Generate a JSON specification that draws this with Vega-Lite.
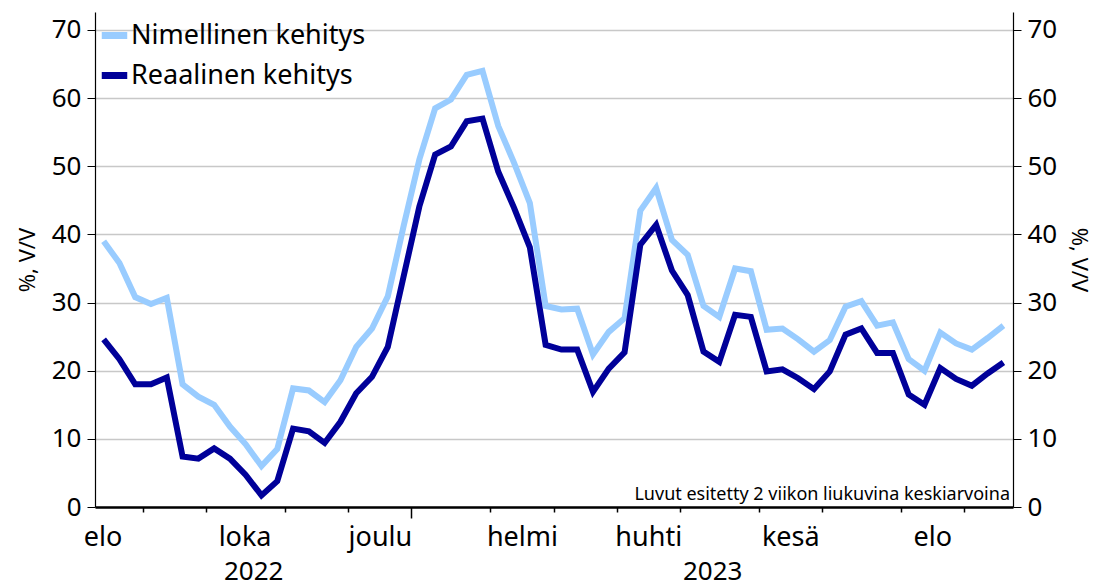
{
  "$schema": "https://vega.github.io/schema/vega-lite/v6.json",
  "width": 918,
  "height": 495,
  "autosize": {"type": "none"},
  "padding": {"left": 95, "top": 12, "right": 84, "bottom": 79},
  "background": "white",
  "config": {
    "font": "Noto Sans",
    "view": {"stroke": null},
    "axis": {"labelColor": "black", "titleColor": "black", "labelFont": "Noto Sans", "titleFont": "Noto Sans"}
  },
  "datasets": {
    "kehitys": [
      {"viikko": "2022-08-15T00:00", "Nimellinen kehitys": 39.0, "Reaalinen kehitys": 24.6},
      {"viikko": "2022-08-22T00:00", "Nimellinen kehitys": 35.8, "Reaalinen kehitys": 21.7},
      {"viikko": "2022-08-29T00:00", "Nimellinen kehitys": 30.8, "Reaalinen kehitys": 18.0},
      {"viikko": "2022-09-05T00:00", "Nimellinen kehitys": 29.8, "Reaalinen kehitys": 18.0},
      {"viikko": "2022-09-12T00:00", "Nimellinen kehitys": 30.7, "Reaalinen kehitys": 19.0},
      {"viikko": "2022-09-19T00:00", "Nimellinen kehitys": 18.0, "Reaalinen kehitys": 7.4},
      {"viikko": "2022-09-26T00:00", "Nimellinen kehitys": 16.2, "Reaalinen kehitys": 7.1},
      {"viikko": "2022-10-03T00:00", "Nimellinen kehitys": 15.0, "Reaalinen kehitys": 8.6},
      {"viikko": "2022-10-10T00:00", "Nimellinen kehitys": 11.8, "Reaalinen kehitys": 7.1},
      {"viikko": "2022-10-17T00:00", "Nimellinen kehitys": 9.2, "Reaalinen kehitys": 4.7},
      {"viikko": "2022-10-24T00:00", "Nimellinen kehitys": 6.0, "Reaalinen kehitys": 1.7},
      {"viikko": "2022-10-31T00:00", "Nimellinen kehitys": 8.5, "Reaalinen kehitys": 3.8},
      {"viikko": "2022-11-07T00:00", "Nimellinen kehitys": 17.4, "Reaalinen kehitys": 11.5},
      {"viikko": "2022-11-14T00:00", "Nimellinen kehitys": 17.1, "Reaalinen kehitys": 11.1},
      {"viikko": "2022-11-21T00:00", "Nimellinen kehitys": 15.4, "Reaalinen kehitys": 9.4},
      {"viikko": "2022-11-28T00:00", "Nimellinen kehitys": 18.6, "Reaalinen kehitys": 12.5},
      {"viikko": "2022-12-05T00:00", "Nimellinen kehitys": 23.5, "Reaalinen kehitys": 16.7},
      {"viikko": "2022-12-12T00:00", "Nimellinen kehitys": 26.2, "Reaalinen kehitys": 19.1},
      {"viikko": "2022-12-19T00:00", "Nimellinen kehitys": 30.9, "Reaalinen kehitys": 23.5},
      {"viikko": "2022-12-26T00:00", "Nimellinen kehitys": 41.2, "Reaalinen kehitys": 33.8},
      {"viikko": "2023-01-02T00:00", "Nimellinen kehitys": 51.0, "Reaalinen kehitys": 44.1},
      {"viikko": "2023-01-09T00:00", "Nimellinen kehitys": 58.5, "Reaalinen kehitys": 51.7},
      {"viikko": "2023-01-16T00:00", "Nimellinen kehitys": 59.8, "Reaalinen kehitys": 52.9},
      {"viikko": "2023-01-23T00:00", "Nimellinen kehitys": 63.4, "Reaalinen kehitys": 56.6},
      {"viikko": "2023-01-30T00:00", "Nimellinen kehitys": 64.0, "Reaalinen kehitys": 57.0},
      {"viikko": "2023-02-06T00:00", "Nimellinen kehitys": 55.9, "Reaalinen kehitys": 49.2},
      {"viikko": "2023-02-13T00:00", "Nimellinen kehitys": 50.5, "Reaalinen kehitys": 43.9},
      {"viikko": "2023-02-20T00:00", "Nimellinen kehitys": 44.6, "Reaalinen kehitys": 38.1},
      {"viikko": "2023-02-27T00:00", "Nimellinen kehitys": 29.5, "Reaalinen kehitys": 23.8},
      {"viikko": "2023-03-06T00:00", "Nimellinen kehitys": 29.0, "Reaalinen kehitys": 23.1},
      {"viikko": "2023-03-13T00:00", "Nimellinen kehitys": 29.1, "Reaalinen kehitys": 23.1},
      {"viikko": "2023-03-20T00:00", "Nimellinen kehitys": 22.4, "Reaalinen kehitys": 16.9},
      {"viikko": "2023-03-27T00:00", "Nimellinen kehitys": 25.7, "Reaalinen kehitys": 20.3},
      {"viikko": "2023-04-03T00:00", "Nimellinen kehitys": 27.7, "Reaalinen kehitys": 22.7},
      {"viikko": "2023-04-10T00:00", "Nimellinen kehitys": 43.5, "Reaalinen kehitys": 38.5},
      {"viikko": "2023-04-17T00:00", "Nimellinen kehitys": 46.8, "Reaalinen kehitys": 41.4},
      {"viikko": "2023-04-24T00:00", "Nimellinen kehitys": 39.2, "Reaalinen kehitys": 34.7},
      {"viikko": "2023-05-01T00:00", "Nimellinen kehitys": 37.0, "Reaalinen kehitys": 31.1},
      {"viikko": "2023-05-08T00:00", "Nimellinen kehitys": 29.5, "Reaalinen kehitys": 22.8},
      {"viikko": "2023-05-15T00:00", "Nimellinen kehitys": 27.9, "Reaalinen kehitys": 21.3},
      {"viikko": "2023-05-22T00:00", "Nimellinen kehitys": 35.0, "Reaalinen kehitys": 28.2},
      {"viikko": "2023-05-29T00:00", "Nimellinen kehitys": 34.6, "Reaalinen kehitys": 27.9},
      {"viikko": "2023-06-05T00:00", "Nimellinen kehitys": 26.0, "Reaalinen kehitys": 19.9},
      {"viikko": "2023-06-12T00:00", "Nimellinen kehitys": 26.2, "Reaalinen kehitys": 20.2},
      {"viikko": "2023-06-19T00:00", "Nimellinen kehitys": 24.6, "Reaalinen kehitys": 18.9},
      {"viikko": "2023-06-26T00:00", "Nimellinen kehitys": 22.8, "Reaalinen kehitys": 17.3},
      {"viikko": "2023-07-03T00:00", "Nimellinen kehitys": 24.5, "Reaalinen kehitys": 19.9},
      {"viikko": "2023-07-10T00:00", "Nimellinen kehitys": 29.4, "Reaalinen kehitys": 25.3},
      {"viikko": "2023-07-17T00:00", "Nimellinen kehitys": 30.2, "Reaalinen kehitys": 26.2},
      {"viikko": "2023-07-24T00:00", "Nimellinen kehitys": 26.6, "Reaalinen kehitys": 22.6},
      {"viikko": "2023-07-31T00:00", "Nimellinen kehitys": 27.1, "Reaalinen kehitys": 22.6},
      {"viikko": "2023-08-07T00:00", "Nimellinen kehitys": 21.7, "Reaalinen kehitys": 16.5},
      {"viikko": "2023-08-14T00:00", "Nimellinen kehitys": 20.0, "Reaalinen kehitys": 15.0},
      {"viikko": "2023-08-21T00:00", "Nimellinen kehitys": 25.6, "Reaalinen kehitys": 20.4},
      {"viikko": "2023-08-28T00:00", "Nimellinen kehitys": 24.0, "Reaalinen kehitys": 18.8},
      {"viikko": "2023-09-04T00:00", "Nimellinen kehitys": 23.1, "Reaalinen kehitys": 17.8},
      {"viikko": "2023-09-11T00:00", "Nimellinen kehitys": 24.8, "Reaalinen kehitys": 19.6},
      {"viikko": "2023-09-18T00:00", "Nimellinen kehitys": 26.6, "Reaalinen kehitys": 21.2}
    ]
  },
  "data": {"name": "kehitys"},
  "resolve": {"axis": {"x": "independent", "y": "independent"}},
  "layer": [
    {
      "transform": [
        {"fold": ["Nimellinen kehitys", "Reaalinen kehitys"], "as": ["sarja", "arvo"]},
        {"filter": "datum.sarja == 'Nimellinen kehitys'"}
      ],
      "mark": {"type": "line", "strokeWidth": 6, "strokeJoin": "miter", "clip": false},
      "encoding": {
        "x": {
          "field": "viikko", "type": "temporal",
          "scale": {"domain": [{"year": 2022, "month": 8, "date": 11, "hours": 4}, {"year": 2023, "month": 9, "date": 22, "hours": 6}]},
          "axis": {
            "orient": "bottom", "title": null, "labels": false, "grid": false,
            "values": [
              {"year": 2022, "month": 9, "date": 1, "hours": 12},
              {"year": 2022, "month": 9, "date": 29, "hours": 12},
              {"year": 2022, "month": 11, "date": 3, "hours": 12},
              {"year": 2022, "month": 12, "date": 1, "hours": 12},
              {"year": 2022, "month": 12, "date": 29, "hours": 12},
              {"year": 2023, "month": 2, "date": 2, "hours": 12},
              {"year": 2023, "month": 3, "date": 2, "hours": 12},
              {"year": 2023, "month": 3, "date": 30, "hours": 12},
              {"year": 2023, "month": 4, "date": 27, "hours": 12},
              {"year": 2023, "month": 6, "date": 1, "hours": 12},
              {"year": 2023, "month": 6, "date": 29, "hours": 12},
              {"year": 2023, "month": 8, "date": 3, "hours": 12},
              {"year": 2023, "month": 8, "date": 31, "hours": 12}
            ],
            "domainColor": "black", "domainWidth": 2.5,
            "tickColor": "black", "tickWidth": 1.5,
            "tickSize": {"condition": {"test": "month(datum.value) == 11 && date(datum.value) == 29", "value": 11}, "value": 5}
          }
        },
        "y": {
          "field": "arvo", "type": "quantitative",
          "scale": {"domain": [0, 72.64], "nice": false, "zero": true},
          "axis": {
            "orient": "left", "title": "%, V/V", "titleFontSize": 22, "titleFontWeight": "normal", "titlePadding": 12,
            "values": [0, 10, 20, 30, 40, 50, 60, 70], "labelFontSize": 26, "labelPadding": 6,
            "tickSize": 8, "tickColor": "black", "domainColor": "black", "domainWidth": 1.2,
            "grid": true, "gridColor": "#c8c8c8", "gridWidth": 1.5
          }
        },
        "color": {
          "field": "sarja", "type": "nominal",
          "scale": {"domain": ["Nimellinen kehitys", "Reaalinen kehitys"], "range": ["#99ccff", "#000099"]},
          "legend": {
            "orient": "none", "legendX": 3, "legendY": 7, "title": null, "padding": 0,
            "symbolType": "stroke", "symbolStrokeWidth": 7, "symbolSize": 650,
            "labelFontSize": 27, "labelColor": "black", "labelFont": "Noto Sans", "labelOffset": 0, "labelLimit": 0, "rowPadding": 9
          }
        }
      }
    },
    {
      "transform": [
        {"fold": ["Nimellinen kehitys", "Reaalinen kehitys"], "as": ["sarja", "arvo"]},
        {"filter": "datum.sarja == 'Reaalinen kehitys'"}
      ],
      "mark": {"type": "line", "strokeWidth": 6, "strokeJoin": "miter", "clip": false},
      "encoding": {
        "x": {
          "field": "viikko", "type": "temporal",
          "axis": {
            "orient": "bottom", "title": null, "domain": false, "ticks": false, "grid": false,
            "labelFlush": false, "labelOverlap": false, "labelFontSize": 27, "labelPadding": 17,
            "values": [
              {"year": 2022, "month": 8, "date": 14, "hours": 12},
              {"year": 2022, "month": 10, "date": 16, "hours": 12},
              {"year": 2022, "month": 12, "date": 15, "hours": 12},
              {"year": 2023, "month": 2, "date": 16, "hours": 12},
              {"year": 2023, "month": 4, "date": 13, "hours": 12},
              {"year": 2023, "month": 6, "date": 15, "hours": 12},
              {"year": 2023, "month": 8, "date": 17, "hours": 12}
            ],
            "labelExpr": "['tammi','helmi','maalis','huhti','touko','kesä','heinä','elo','syys','loka','marras','joulu'][month(datum.value)]"
          }
        },
        "y": {
          "field": "arvo", "type": "quantitative",
          "axis": {
            "orient": "right", "title": "%, V/V", "titleFontSize": 22, "titleFontWeight": "normal", "titlePadding": 10,
            "values": [0, 10, 20, 30, 40, 50, 60, 70], "labelFontSize": 26, "labelPadding": 6,
            "tickSize": 8, "tickColor": "black", "domainColor": "black", "domainWidth": 1.2, "grid": false
          }
        },
        "color": {"field": "sarja", "type": "nominal"}
      }
    },
    {
      "data": {"values": [{"huomautus": "Luvut esitetty 2 viikon liukuvina keskiarvoina"}]},
      "mark": {"type": "text", "align": "right", "baseline": "alphabetic", "fontSize": 18, "font": "Noto Sans", "color": "black", "dx": -3, "dy": -7},
      "encoding": {
        "text": {"field": "huomautus"},
        "x": {
          "datum": {"year": 2023, "month": 9, "date": 22, "hours": 6}, "type": "temporal",
          "axis": {
            "orient": "bottom", "title": null, "domain": false, "ticks": false, "grid": false,
            "labelFlush": false, "labelOverlap": false, "labelFontSize": 26, "labelPadding": 72, "labelBaseline": "alphabetic",
            "values": [
              {"year": 2022, "month": 10, "date": 20, "hours": 8},
              {"year": 2023, "month": 5, "date": 11, "hours": 21}
            ],
            "labelExpr": "timeFormat(datum.value, '%Y')"
          }
        },
        "y": {"datum": 0, "type": "quantitative", "axis": null}
      }
    }
  ]
}
